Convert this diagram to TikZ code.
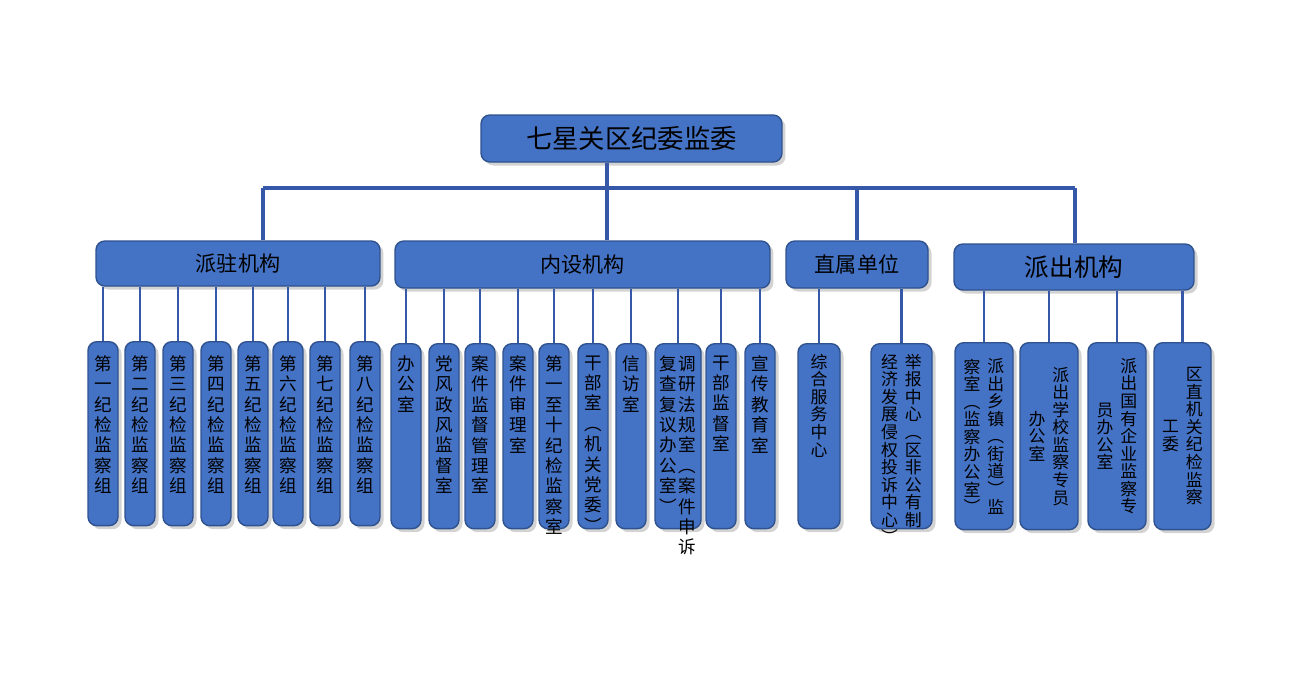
\documentclass[tikz,border=0pt]{standalone}
\usepackage{fontspec}
\setmainfont{Noto Sans CJK SC}
\usetikzlibrary{shadows,positioning}

\definecolor{boxblue}{HTML}{4472C4}
\definecolor{edgeblue}{HTML}{2F528F}
\definecolor{lineblue}{HTML}{3558A8}

% vertical text: one character per line
\def\vtA#1{#1\vtB}
\def\vtB#1{\ifx#1\relax\else\\#1\expandafter\vtB\fi}
\newcommand\vc[1]{\parbox[t]{1.1em}{\centering\vtA#1\relax}}
\newcommand\vcc[1]{\parbox[c]{1.1em}{\centering\vtA#1\relax}}

\tikzset{
  box/.style={draw=edgeblue, line width=0.8pt, fill=boxblue, rounded corners=5pt,
    drop shadow={shadow xshift=2pt, shadow yshift=-2pt, opacity=0.35}},
  link/.style={draw=lineblue, line width=2.2pt},
  vtext/.style={inner sep=0pt, font=\fontsize{10}{11.6}\selectfont},
  vtight/.style={inner sep=0pt, font=\fontsize{9.6}{10}\selectfont}
}

\begin{document}
\begin{tikzpicture}[x=0.02cm, y=-0.02cm]
    \useasboundingbox (0,0) rectangle (1294,697);
    % top
    \node[box, minimum width=6.02cm, minimum height=0.94cm, font=\fontsize{15}{18}\selectfont] (top) at (631.5,138.5) {七星关区纪委监委};
    % groups
    \node[box, minimum width=5.68cm, minimum height=0.9cm, font=\fontsize{12}{14}\selectfont] (pz) at (238,263.5) {派驻机构};
    \node[box, minimum width=7.5cm, minimum height=0.94cm, font=\fontsize{12}{14}\selectfont] (ns) at (582.5,264.5) {内设机构};
    \node[box, minimum width=2.84cm, minimum height=0.94cm, font=\fontsize{12}{14}\selectfont] (zs) at (857,264.5) {直属单位};
    \node[box, minimum width=4.8cm, minimum height=0.92cm, font=\fontsize{14}{16}\selectfont] (pc) at (1074,267) {派出机构};
    % bus
    \coordinate (bus) at (607,188);
    \coordinate (busL) at (263,188);
    \coordinate (busR) at (1075,188);
    \draw[link] (bus |- top.south) -- (bus);
    \draw[link] (busL) -- (busR);
    \draw[link] (busL) -- (busL |- pz.north);
    \draw[link] (bus) -- (bus |- ns.north);
    \draw[link] (zs.north |- bus) -- (zs.north);
    \draw[link] (busR) -- (busR |- pc.north);
    % 派驻机构
    \foreach \i/\xa/\xb/\t in {1/88/118/{\vc{第一纪检监察组}}, 2/125/155/{\vc{第二纪检监察组}},
        3/163/193/{\vc{第三纪检监察组}}, 4/201/231/{\vc{第四纪检监察组}}, 5/238/268/{\vc{第五纪检监察组}},
        6/273/303/{\vc{第六纪检监察组}}, 7/310/340/{\vc{第七纪检监察组}}, 8/350/380/{\vc{第八纪检监察组}}} {
      \node[box, minimum width={(\xb-\xa)*0.02cm}, minimum height=3.68cm, anchor=north] (p\i) at ({(\xa+\xb)/2},341) {};
      \node[vtext, anchor=north] (p\i-t) at ([yshift=-8pt]p\i.north) {\t};
      \draw[link, line width=1.6pt] (p\i.north) -- (p\i.north |- pz.south);
    }
    % 内设机构
    \foreach \i/\xa/\xb/\t in {1/391/421/{\vc{办公室}}, 2/429/459/{\vc{党风政风监督室}},
        3/465/495/{\vc{案件监督管理室}}, 4/503/533/{\vc{案件审理室}},
        5/539/569/{\vc{第一至十纪检监察室}}, 6/578/608/{\vc{干部室︵机关党委︶}},
        7/616/646/{\vc{信访室}}, 8/655/701/{\vc{复查复议办公室︶}\vc{调研法规室︵案件申诉}},
        9/706/736/{\vc{干部监督室}}, 10/745/775/{\vc{宣传教育室}}} {
      \node[box, minimum width={(\xb-\xa)*0.02cm}, minimum height=3.7cm, anchor=north] (n\i) at ({(\xa+\xb)/2},343) {};
      \node[vtext, anchor=north] (n\i-t) at ([yshift=-7pt]n\i.north) {\t};
      \draw[link, line width=1.6pt] (n\i.north) -- (n\i.north |- ns.south);
    }
    % 直属单位
    \foreach \i/\xa/\xb/\t in {1/798/840/{\vc{综合服务中心}},
        2/871/932/{\vc{经济发展侵权投诉中心︶}\hspace{3pt}\vc{举报中心︵区非公有制}}} {
      \node[box, minimum width={(\xb-\xa)*0.02cm}, minimum height=3.7cm, anchor=north] (z\i) at ({(\xa+\xb)/2},343) {};
      \node[vtight, anchor=north] (z\i-t) at ([yshift=-6pt]z\i.north) {\t};
      \draw[link, line width=1.6pt] (z\i.north) -- (z\i.north |- zs.south);
    }
    % 派出机构
    \foreach \i/\xa/\xb/\t in {1/955/1013/{\vcc{察室︵监察办公室︶}\hspace{3pt}\vcc{派出乡镇︵街道︶监}},
        2/1020/1078/{\vcc{办公室}\hspace{3pt}\vcc{派出学校监察专员}},
        3/1088/1146/{\vcc{员办公室}\hspace{3pt}\vcc{派出国有企业监察专}},
        4/1154/1211/{\vcc{工委}\hspace{3pt}\vcc{区直机关纪检监察}}} {
      \node[box, minimum width={(\xb-\xa)*0.02cm}, minimum height=3.74cm, anchor=north] (c\i) at ({(\xa+\xb)/2},342) {};
      \node[vtight] (c\i-t) at (c\i.center) {\t};
      \draw[link, line width=1.6pt] (c\i.north) -- (c\i.north |- pc.south);
    }
\end{tikzpicture}
\end{document}
